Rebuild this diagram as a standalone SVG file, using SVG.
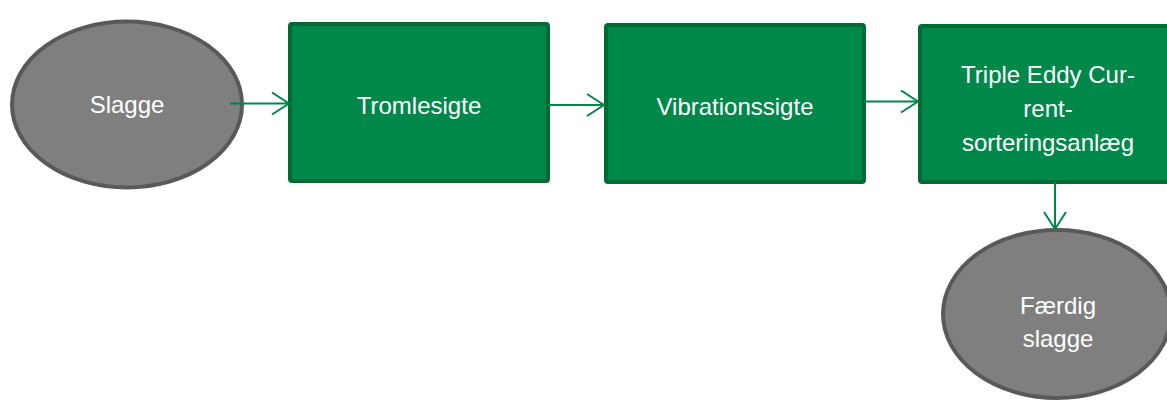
<svg xmlns="http://www.w3.org/2000/svg" width="1167" height="401" viewBox="0 0 1167 401">
<style>
.ell{fill:#7f7f7f;stroke:#595959;stroke-width:4}
.box{fill:#00874a;stroke:#006b35;stroke-width:4}
.t{font-family:"Liberation Sans",Arial,sans-serif;font-size:24px;fill:#ffffff;text-anchor:middle}
.c{stroke:#00874a;stroke-width:2;fill:none}
</style>
<defs>
<marker id="arr" viewBox="0 0 20 24" refX="18" refY="12" markerWidth="20" markerHeight="24" markerUnits="userSpaceOnUse" orient="auto">
<path d="M1,1 L18,12 L1,23" fill="none" stroke="#00874a" stroke-width="2"/>
</marker>
</defs>
<rect width="1167" height="401" fill="#ffffff"/>
<g id="slagge">
<ellipse class="ell" cx="127" cy="104.5" rx="115" ry="83"/>
<text class="t" x="127" y="113">Slagge</text>
</g>
<g id="tromlesigte">
<rect class="box" x="290" y="24" width="258" height="157" rx="2"/>
<text class="t" x="419" y="114">Tromlesigte</text>
</g>
<g id="vibrationssigte">
<rect class="box" x="606" y="25" width="258" height="157" rx="2"/>
<text class="t" x="735" y="115">Vibrationssigte</text>
</g>
<g id="triple">
<rect class="box" x="920" y="26" width="258" height="156" rx="2"/>
<text class="t" x="1048" y="83">Triple Eddy Cur-</text>
<text class="t" x="1048" y="117">rent-</text>
<text class="t" x="1048" y="151">sorteringsanlæg</text>
</g>
<g id="faerdig">
<ellipse class="ell" cx="1057" cy="314" rx="114" ry="84"/>
<text class="t" x="1058" y="314">Færdig</text>
<text class="t" x="1058" y="347">slagge</text>
</g>
<g id="connectors">
<line class="c" x1="230" y1="103.5" x2="289" y2="103.5" marker-end="url(#arr)"/>
<line class="c" x1="548" y1="105" x2="604" y2="105" marker-end="url(#arr)"/>
<line class="c" x1="864" y1="101.5" x2="918" y2="101.5" marker-end="url(#arr)"/>
<line class="c" x1="1055" y1="182" x2="1055" y2="229" marker-end="url(#arr)"/>
</g>
</svg>
